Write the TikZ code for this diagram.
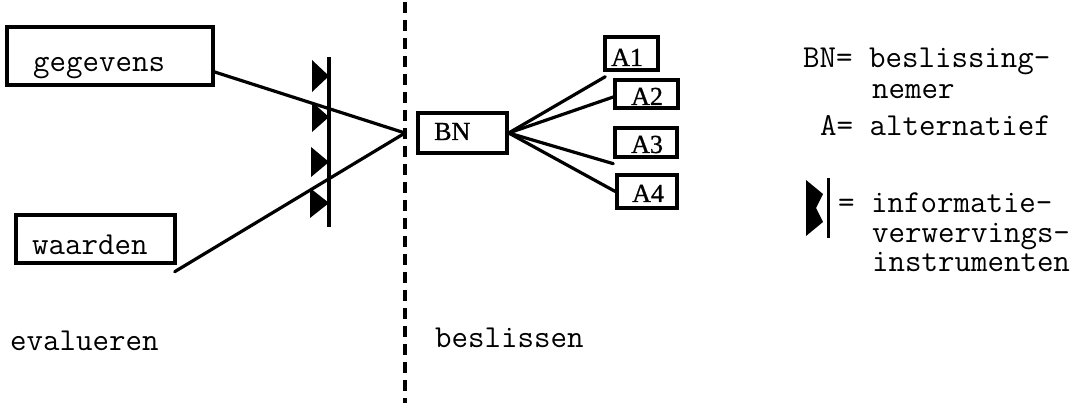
\documentclass[tikz,border=0pt]{standalone}
\usepackage{fontspec}
\newfontfamily\sr[FakeBold=1]{Liberation Serif}
\newcommand{\twfont}{\ttfamily\addfontfeatures{FakeBold=1.5}\fontsize{32}{34}\selectfont}
\begin{document}
\begin{tikzpicture}[x=1pt,y=-1pt,
  box/.style={draw, line width=3.4pt, inner sep=0pt},
  wire/.style={line width=3.2pt, line cap=round},
  tt/.style={font=\twfont, inner sep=0pt, anchor=base west},
  sr/.style={font=\sr\fontsize{26}{28}\selectfont, inner sep=0pt, anchor=base west},
  flag/.style={fill=black},
  divider/.style={line width=3.4pt, dash pattern=on 11pt off 7pt}]
\useasboundingbox (0,0) rectangle (1087,403);

% boxes
\node[box, minimum width=206pt, minimum height=58pt] (geg) at (110,56) {};
\node[box, minimum width=159pt, minimum height=48pt] (waa) at (95.5,239) {};
\node[box, minimum width=89pt, minimum height=40pt] (bn) at (462.5,133) {};
\node[box, minimum width=53pt, minimum height=33pt] (a1) at (631.5,53.5) {};
\node[box, minimum width=63pt, minimum height=28pt] (a2) at (646.5,94) {};
\node[box, minimum width=62pt, minimum height=29pt] (a3) at (646,142.5) {};
\node[box, minimum width=60pt, minimum height=33pt] (a4) at (647,191.5) {};

% box texts
\node[tt] (tgeg) at (33,72) {gegevens};
\node[tt] (twaa) at (32,255) {waarden};
\node[sr] (tbn) at (434,140) {BN};
\node[sr] (ta1) at (611,66) {A1};
\node[sr] (ta2) at (631,105) {A2};
\node[sr] (ta3) at (631,153) {A3};
\node[sr] (ta4) at (632,202) {A4};

% section labels
\node[tt] (teval) at (10,350) {evalueren};
\node[tt] (tbesl) at (435,348) {beslissen};

% divider
\coordinate (dtop) at (405,2);
\coordinate (dbot) at (405,403);
\draw[divider] (dtop) -- (dbot);

% apex
\coordinate (apex) at (405,133);
\draw[wire] ([yshift=-16pt]geg.east) -- (apex);
\draw[wire] ([shift={(-2pt,-7pt)}]waa.south east) -- (apex);

% BN to alternatives
\draw[wire] (bn.east) -- ([shift={(2pt,-5pt)}]a1.south west);
\draw[wire] (bn.east) -- ([yshift=-3pt]a2.west);
\draw[wire] (bn.east) -- ([shift={(0pt,-5pt)}]a3.south west);
\draw[wire] (bn.east) -- (a4.west);

% information instruments
\coordinate (itop) at (329,57);
\coordinate (ibot) at (329,227);
\draw[line width=3.4pt] (itop) -- (ibot);
\fill[flag] (312,60) -- (329,76) -- (312,92) -- cycle;
\fill[flag] (312,102) -- (329,117) -- (312,132) -- cycle;
\fill[flag] (311,147) -- (329,162) -- (311,177) -- cycle;
\fill[flag] (310,188) -- (329,203) -- (310,218) -- cycle;

% legend
\node[tt] (l1) at (803,68) {BN= beslissing-};
\node[tt] (l2) at (872,99) {nemer};
\node[tt] (l3) at (820,136) {A= alternatief};
\node[tt] (l4) at (838,213) {= informatie-};
\node[tt] (l5) at (872,243) {verwervings-};
\node[tt] (l6) at (872,272) {instrumenten};
\fill[flag] (806,180) -- (823,194) -- (816,208) -- (823,222) -- (806,236) -- cycle;
\coordinate (lbtop) at (828,178);
\coordinate (lbbot) at (828,238);
\draw[line width=3pt] (lbtop) -- (lbbot);
\end{tikzpicture}
\end{document}
